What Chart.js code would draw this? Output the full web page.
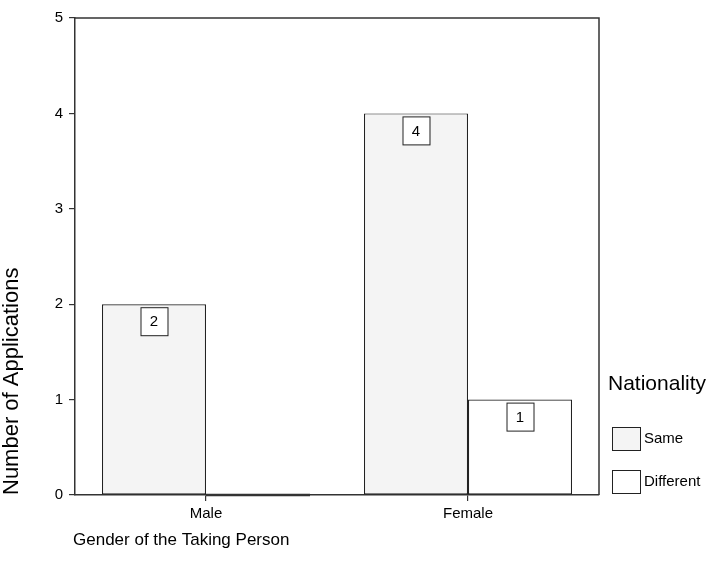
<!DOCTYPE html>
<html>
<head>
<meta charset="utf-8">
<script src="https://cdn.jsdelivr.net/npm/chart.js@4/dist/chart.umd.min.js"></script>
<style>
  html, body { margin: 0; padding: 0; background: #fff; }
  #wrap { width: 714px; height: 579px; position: relative; }
</style>
</head>
<body>
<div id="wrap"><canvas id="genderChart" width="714" height="579"></canvas></div>
<script>
const categories = ["Male", "Female"];
const sameValues = [2, 4];
const differentValues = [0, 1];
const seriesNames = ["Same", "Different"];
const legendTitle = "Nationality";
const yTitle = "Number of Applications";
const xTitle = "Gender of the Taking Person";

const FONT = "Arial, 'Liberation Sans', sans-serif";
const lineColor = "#333";

// frame round the plot, boxed value labels, axis titles and the legend
const extras = {
  id: "extras",
  afterDatasetsDraw(chart) {
    const ctx = chart.ctx;
    ctx.save();
    ctx.font = "15px " + FONT;
    ctx.textAlign = "center";
    ctx.textBaseline = "middle";
    chart.data.datasets.forEach((ds, i) => {
      chart.getDatasetMeta(i).data.forEach((bar, j) => {
        const v = ds.data[j];
        if (!v) {
          // zero value: draw the flat bar as a heavier line on the axis
          ctx.strokeStyle = "#333";
          ctx.lineWidth = 2.5;
          ctx.beginPath();
          ctx.moveTo(bar.x - bar.width / 2, bar.base);
          ctx.lineTo(bar.x + bar.width / 2, bar.base);
          ctx.stroke();
          return;
        }
        const w = 27, h = 28;
        const x = bar.x - w / 2;
        const y = bar.y + 3;
        ctx.fillStyle = "#fff";
        ctx.fillRect(x, y, w, h);
        ctx.strokeStyle = "#222";
        ctx.lineWidth = 1;
        ctx.strokeRect(x + 0.5, y + 0.5, w, h);
        ctx.fillStyle = "#000";
        ctx.fillText(String(v), bar.x, y + h / 2 + 1);
      });
    });
    ctx.restore();
  },
  afterDraw(chart) {
    const ctx = chart.ctx;
    const a = chart.chartArea;
    ctx.save();
    ctx.strokeStyle = lineColor;
    ctx.lineWidth = 1.5;
    ctx.beginPath();
    ctx.moveTo(a.left, a.top);
    ctx.lineTo(a.right, a.top);
    ctx.lineTo(a.right, a.bottom);
    ctx.stroke();

    ctx.fillStyle = "#000";
    // y title, starts at the bottom of the axis
    ctx.font = "22px " + FONT;
    ctx.save();
    ctx.translate(12, a.bottom);
    ctx.rotate(-Math.PI / 2);
    ctx.textAlign = "left";
    ctx.textBaseline = "middle";
    ctx.fillText(yTitle, 0, 0);
    ctx.restore();

    // x title
    ctx.font = "17px " + FONT;
    ctx.textAlign = "left";
    ctx.textBaseline = "middle";
    ctx.fillText(xTitle, a.left - 2, 540);

    // legend
    const lx = a.right + 9;
    ctx.font = "21px " + FONT;
    ctx.fillText(legendTitle, lx, a.bottom - 111);
    ctx.font = "15px " + FONT;
    chart.data.datasets.forEach((ds, i) => {
      const by = a.bottom - 68 + i * 43;
      ctx.fillStyle = ds.backgroundColor;
      ctx.fillRect(lx + 4, by, 28, 23);
      ctx.strokeStyle = "#222";
      ctx.lineWidth = 1;
      ctx.strokeRect(lx + 4.5, by + 0.5, 28, 23);
      ctx.fillStyle = "#000";
      ctx.fillText(ds.label, lx + 36, by + 12);
    });
    ctx.restore();
  }
};

new Chart(document.getElementById("genderChart"), {
  type: "bar",
  data: {
    labels: categories,
    datasets: [
      {
        label: seriesNames[0],
        data: sameValues,
        backgroundColor: "#f4f4f4",
        borderColor: "#222",
        borderWidth: 1.2,
        borderSkipped: false,
        categoryPercentage: 0.794,
        barPercentage: 1.0,
      },
      {
        label: seriesNames[1],
        data: differentValues,
        backgroundColor: "#ffffff",
        borderColor: "#222",
        borderWidth: 1.2,
        borderSkipped: false,
        categoryPercentage: 0.794,
        barPercentage: 1.0,
      },
    ],
  },
  options: {
    responsive: false,
    animation: false,
    layout: { padding: { top: 18, right: 115, left: 0, bottom: 0 } },
    plugins: {
      legend: { display: false },
      tooltip: { enabled: false },
    },
    scales: {
      x: {
        grid: {
          offset: false,
          drawOnChartArea: false,
          drawTicks: true,
          tickLength: 6,
          color: lineColor,
          lineWidth: 1.2,
        },
        border: { display: true, color: lineColor, width: 1.5 },
        ticks: { color: "#000", font: { family: FONT, size: 15 }, padding: 4 },
        afterFit(scale) { scale.height = 84; },
      },
      y: {
        min: 0,
        max: 5,
        ticks: { stepSize: 1, color: "#000", font: { family: FONT, size: 15 }, padding: 6 },
        grid: {
          drawOnChartArea: false,
          drawTicks: true,
          tickLength: 6,
          color: lineColor,
          lineWidth: 1.2,
        },
        border: { display: true, color: lineColor, width: 1.5 },
        afterFit(scale) { scale.width = 75; },
      },
    },
  },
  plugins: [extras],
});
</script>
</body>
</html>
